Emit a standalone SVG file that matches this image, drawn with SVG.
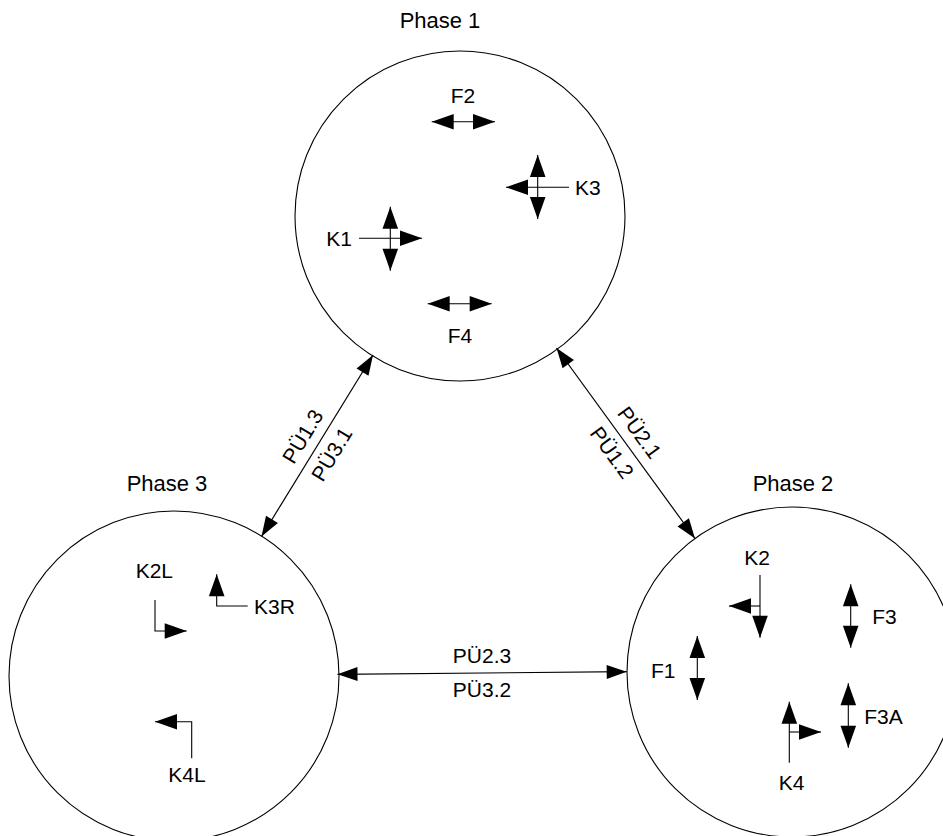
<svg xmlns="http://www.w3.org/2000/svg" width="943" height="836" viewBox="0 0 943 836">
<style>
text{font-family:"Liberation Sans",Arial,sans-serif;font-size:21px;fill:#000}
.ph{font-size:22px}
.c{fill:#fff;stroke:#000;stroke-width:1.1}
.a{fill:none;stroke:#000;stroke-width:1.1}
.d{marker-start:url(#ah);marker-end:url(#ah)}
.e{marker-end:url(#ah)}
.cn{fill:none;stroke:#000;stroke-width:1.2;marker-start:url(#ch);marker-end:url(#ch)}
</style>
<defs>
<marker id="ah" markerUnits="userSpaceOnUse" markerWidth="22" markerHeight="16" refX="22" refY="7.8" orient="auto-start-reverse" overflow="visible"><path d="M0,0 L22,7.8 L0,15.6 z" fill="#000"/></marker>
<marker id="ch" markerUnits="userSpaceOnUse" markerWidth="20" markerHeight="14" refX="20" refY="7" orient="auto-start-reverse" overflow="visible"><path d="M0,0 L20,7 L0,14 z" fill="#000"/></marker>
</defs>
<rect width="943" height="836" fill="#fff"/>
<g id="phase1">
<circle class="c" cx="460" cy="216" r="165"/>
<text class="ph" x="440" y="28" text-anchor="middle">Phase 1</text>
<line class="a d" x1="431.7" y1="121.7" x2="495" y2="121.7"/>
<text x="463" y="103" text-anchor="middle">F2</text>
<line class="a d" x1="537.7" y1="155" x2="537.7" y2="219"/>
<line class="a e" x1="569" y1="187.3" x2="506" y2="187.3"/>
<text x="575" y="195">K3</text>
<line class="a d" x1="390.3" y1="206.7" x2="390.3" y2="270.7"/>
<line class="a e" x1="359" y1="238.3" x2="422" y2="238.3"/>
<text x="352" y="246" text-anchor="end">K1</text>
<line class="a d" x1="427.7" y1="303.7" x2="491.7" y2="303.7"/>
<text x="460" y="343" text-anchor="middle">F4</text>
</g>
<g id="phase3">
<circle class="c" cx="174" cy="676" r="165"/>
<text class="ph" x="167" y="491" text-anchor="middle">Phase 3</text>
<text x="135.7" y="578.3">K2L</text>
<polyline class="a e" points="155,600 155,631 186.7,631"/>
<polyline class="a e" points="247.7,606 216.7,606 216.7,574.3"/>
<text x="254" y="613.5">K3R</text>
<polyline class="a e" points="191.7,758.3 191.7,721.7 155,721.7"/>
<text x="187" y="782" text-anchor="middle">K4L</text>
</g>
<g id="phase2">
<circle class="c" cx="792" cy="672" r="165"/>
<text class="ph" x="793" y="491" text-anchor="middle">Phase 2</text>
<text x="757" y="565" text-anchor="middle">K2</text>
<line class="a e" x1="760" y1="575" x2="760" y2="637.7"/>
<line class="a e" x1="760" y1="606" x2="729" y2="606"/>
<line class="a d" x1="850.7" y1="584.3" x2="850.7" y2="647.7"/>
<text x="872.3" y="624">F3</text>
<line class="a d" x1="697.3" y1="636" x2="697.3" y2="700"/>
<text x="651" y="677.7">F1</text>
<line class="a e" x1="789.3" y1="762.7" x2="789.3" y2="701.7"/>
<line class="a e" x1="789.3" y1="732" x2="821" y2="732"/>
<text x="791.5" y="790" text-anchor="middle">K4</text>
<line class="a d" x1="848.3" y1="683.3" x2="848.3" y2="747.7"/>
<text x="864.3" y="724">F3A</text>
</g>
<g id="connectors">
<line class="cn" x1="373" y1="355" x2="261.5" y2="536.5"/>
<line class="cn" x1="556.5" y1="348" x2="695" y2="538.5"/>
<line class="cn" x1="337.5" y1="674.3" x2="626.7" y2="671.7"/>
<g transform="translate(317.5,445.5) rotate(-58.5)">
<text x="0" y="-10" text-anchor="middle">PÜ1.3</text>
<text x="0" y="24" text-anchor="middle">PÜ3.1</text>
</g>
<g transform="translate(625.5,442.8) rotate(54)">
<text x="0" y="-10" text-anchor="middle">PÜ2.1</text>
<text x="0" y="24" text-anchor="middle">PÜ1.2</text>
</g>
<text x="482" y="663.3" text-anchor="middle">PÜ2.3</text>
<text x="482" y="697.3" text-anchor="middle">PÜ3.2</text>
</g>
</svg>
